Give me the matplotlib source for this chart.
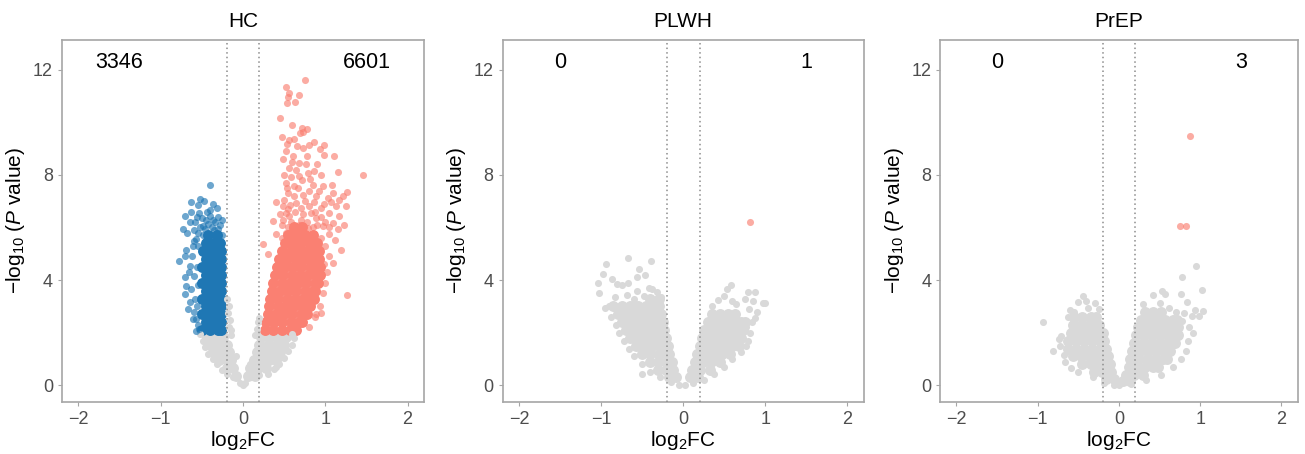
import matplotlib
matplotlib.use("Agg")
import matplotlib.pyplot as plt

plt.rcParams['font.family'] = ['Liberation Sans', 'DejaVu Sans']
plt.rcParams['mathtext.fontset'] = 'custom'
plt.rcParams['mathtext.rm'] = 'Liberation Sans'
plt.rcParams['mathtext.it'] = 'Liberation Sans:italic'

# ---- data ----
titles = ['HC', 'PLWH', 'PrEP']
n_down = [3346, 0, 0]
n_up = [6601, 1, 3]
fc_cut = 0.2

# dense parts of each cloud: (y, [x, x, ...]) rows
hc_grey_rows = [
    (1.85, [-0.44, -0.34, -0.24, 0.22, 0.32, 0.42, 0.52]),
    (1.55, [-0.40, -0.30, -0.20, 0.20, 0.30, 0.40, 0.50]),
    (1.25, [-0.36, -0.27, -0.17, 0.17, 0.26, 0.36, 0.45]),
    (0.95, [-0.29, -0.20, -0.14, 0.13, 0.22, 0.32, 0.40]),
    (0.65, [-0.19, -0.12, 0.09, 0.18, 0.28]),
    (0.35, [-0.08, 0.06, 0.15]),
]
hc_down_rows = [
    (2.1, [-0.50, -0.40, -0.30, -0.27]),
    (2.4, [-0.45, -0.35, -0.27]),
    (2.7, [-0.50, -0.40, -0.30, -0.27]),
    (3.0, [-0.45, -0.35, -0.27]),
    (3.3, [-0.50, -0.40, -0.30, -0.27]),
    (3.6, [-0.45, -0.35, -0.27]),
    (3.9, [-0.50, -0.40, -0.30, -0.27]),
    (4.2, [-0.45, -0.35, -0.27]),
    (4.5, [-0.50, -0.40, -0.30, -0.27]),
    (4.8, [-0.45, -0.35, -0.27]),
    (5.1, [-0.48, -0.40, -0.30, -0.27]),
    (5.4, [-0.45, -0.35, -0.28]),
    (5.7, [-0.42, -0.32]),
]
hc_up_rows = [
    (2.1, [0.27, 0.37, 0.47, 0.57, 0.64]),
    (2.4, [0.28, 0.38, 0.48, 0.58, 0.68, 0.72]),
    (2.7, [0.30, 0.40, 0.50, 0.60, 0.70, 0.78]),
    (3.0, [0.32, 0.42, 0.52, 0.62, 0.72, 0.82]),
    (3.3, [0.33, 0.43, 0.53, 0.63, 0.73, 0.83, 0.86]),
    (3.6, [0.35, 0.45, 0.55, 0.65, 0.75, 0.85, 0.88]),
    (3.9, [0.37, 0.47, 0.57, 0.67, 0.77, 0.87, 0.91]),
    (4.2, [0.39, 0.49, 0.59, 0.69, 0.79, 0.89, 0.93]),
    (4.5, [0.41, 0.51, 0.61, 0.71, 0.81, 0.91, 0.94]),
    (4.8, [0.44, 0.54, 0.64, 0.74, 0.84, 0.92]),
    (5.1, [0.48, 0.58, 0.68, 0.78, 0.88, 0.92]),
    (5.4, [0.51, 0.61, 0.71, 0.81, 0.90]),
    (5.7, [0.55, 0.65, 0.75, 0.85]),
    (6.0, [0.62, 0.72]),
]
plwh_grey_rows = [
    (3.3, [-0.40, -0.30]),
    (3.0, [-0.85, -0.75, -0.65, -0.55, -0.45, -0.35, -0.29]),
    (2.7, [-0.80, -0.70, -0.60, -0.50, -0.40, -0.30, -0.27, 0.35, 0.45, 0.55, 0.63]),
    (2.4, [-0.75, -0.65, -0.55, -0.45, -0.35, -0.25, 0.30, 0.40, 0.50, 0.60, 0.70, 0.75]),
    (2.1, [-0.70, -0.60, -0.50, -0.40, -0.30, -0.23, 0.26, 0.36, 0.46, 0.56, 0.66, 0.73]),
    (1.8, [-0.65, -0.55, -0.45, -0.35, -0.25, -0.21, 0.23, 0.33, 0.43, 0.53, 0.63, 0.71]),
    (1.5, [-0.58, -0.48, -0.38, -0.28, -0.19, 0.20, 0.30, 0.40, 0.50, 0.60, 0.68]),
    (1.2, [-0.50, -0.40, -0.30, -0.20, -0.17, 0.17, 0.27, 0.37, 0.47, 0.57]),
    (0.9, [-0.41, -0.31, -0.21, -0.14, 0.14, 0.24, 0.34, 0.45]),
    (0.6, [-0.31, -0.21, -0.12, 0.11, 0.21, 0.33]),
    (0.3, [-0.17, -0.09, 0.08, 0.18]),
]
prep_grey_rows = [
    (2.8, [0.32, 0.42, 0.52]),
    (2.6, [-0.55, -0.45, -0.35, -0.28]),
    (2.5, [0.27, 0.37, 0.47, 0.57, 0.67, 0.72]),
    (2.3, [-0.57, -0.47, -0.37, -0.27, -0.24]),
    (2.2, [0.24, 0.34, 0.44, 0.54, 0.64, 0.73]),
    (2.0, [-0.59, -0.49, -0.39, -0.29, -0.20]),
    (1.9, [0.21, 0.31, 0.41, 0.51, 0.61, 0.71, 0.73]),
    (1.7, [-0.63, -0.53, -0.43, -0.33, -0.23, -0.18]),
    (1.6, [0.19, 0.29, 0.39, 0.49, 0.59, 0.69]),
    (1.4, [-0.63, -0.53, -0.43, -0.33, -0.23, -0.16]),
    (1.3, [0.16, 0.26, 0.36, 0.46, 0.56, 0.63]),
    (1.1, [-0.57, -0.47, -0.37, -0.27, -0.17, -0.14]),
    (1.0, [0.14, 0.24, 0.34, 0.44, 0.54, 0.59]),
    (0.8, [-0.45, -0.35, -0.25, -0.15, -0.11]),
    (0.7, [0.12, 0.22, 0.32, 0.42, 0.48]),
    (0.5, [-0.31, -0.21, -0.10]),
    (0.4, [0.09, 0.19, 0.30]),
    (0.25, [-0.16, -0.06]),
    (0.15, [0.05, 0.14]),
]

# scattered single genes (x = log2FC, y = -log10 P)
hc_grey_pts = [(-0.52, 1.95), (-0.49, 1.7), (-0.46, 1.45), (-0.42, 1.2), (-0.37, 1.0),
               (-0.32, 0.8), (-0.26, 0.6), (-0.2, 0.45), (-0.12, 0.3), (-0.04, 0.08),
               (0.0, 0.0), (0.03, 0.1), (0.1, 0.3), (0.2, 0.4), (0.3, 0.45), (0.38, 0.62),
               (0.44, 0.8), (0.5, 1.05), (0.55, 1.3), (0.6, 1.55), (0.62, 1.8), (0.6, 1.95),
               (0.4, 0.7), (-0.17, 2.2), (-0.16, 2.5), (-0.18, 2.75), (-0.17, 3.0),
               (-0.19, 3.3), (-0.15, 2.1), (0.17, 2.15), (0.18, 2.4), (0.19, 2.55),
               (-0.14, 1.9), (0.15, 1.9), (-0.09, 1.1), (0.08, 0.8)]
hc_down_pts = [(-0.40, 7.60), (-0.63, 6.98), (-0.52, 7.10), (-0.55, 6.84), (-0.32, 6.74),
               (-0.40, 6.67), (-0.63, 6.60), (-0.70, 6.43), (-0.53, 6.55), (-0.73, 5.95),
               (-0.68, 5.80), (-0.78, 4.73), (-0.69, 5.14), (-0.71, 4.91), (-0.64, 4.54),
               (-0.71, 4.10), (-0.69, 3.76), (-0.71, 3.47), (-0.65, 3.15), (-0.67, 2.90),
               (-0.61, 2.52), (-0.57, 2.05), (-0.45, 6.30), (-0.37, 6.30), (-0.49, 6.05),
               (-0.35, 5.92), (-0.57, 5.55), (-0.61, 5.29), (-0.59, 4.16), (-0.63, 3.65),
               (-0.57, 2.52), (-0.53, 2.14), (-0.60, 5.9), (-0.58, 6.2), (-0.44, 6.6),
               (-0.28, 6.1), (-0.26, 5.7), (-0.30, 6.4), (-0.62, 4.9), (-0.58, 3.3),
               (-0.60, 2.8), (-0.66, 4.3), (-0.55, 5.8), (-0.50, 6.35), (-0.36, 6.9),
               (-0.47, 7.0), (-0.48, 5.7), (-0.38, 6.0), (-0.30, 5.95), (-0.42, 6.15),
               (-0.52, 6.0), (-0.34, 6.2), (-0.46, 5.95), (-0.25, 6.3), (-0.40, 6.45),
               (-0.56, 6.4), (-0.64, 6.2), (-0.60, 5.5), (-0.55, 5.3), (-0.56, 4.5),
               (-0.55, 3.8), (-0.56, 3.0), (-0.55, 2.3)]
hc_up_pts = [(0.758, 11.6), (0.524, 11.34), (0.556, 11.12), (0.686, 11.04), (0.544, 10.94),
             (0.536, 10.74), (0.637, 10.76), (0.455, 10.17), (0.592, 9.89), (0.714, 9.78),
             (0.779, 9.76), (0.475, 9.45), (0.698, 9.58), (0.726, 9.64), (0.564, 9.33),
             (0.625, 9.38), (0.868, 9.23), (0.989, 9.13), (0.937, 8.98), (0.532, 9.18),
             (1.11, 8.72), (0.98, 8.76), (0.726, 9.01), (0.807, 9.14), (0.49, 8.62),
             (0.604, 8.70), (0.686, 8.45), (0.779, 8.70), (0.556, 8.26), (0.868, 8.13),
             (1.15, 8.09), (1.454, 7.98), (0.504, 8.0), (0.686, 7.94), (0.787, 8.07),
             (0.524, 7.69), (0.625, 7.59), (0.847, 7.63), (0.969, 7.56), (1.078, 7.61),
             (1.27, 7.34), (1.21, 7.18), (1.17, 7.03), (0.403, 6.96), (0.544, 7.31),
             (0.726, 7.25), (0.888, 7.18), (1.03, 7.11), (1.25, 6.81), (1.13, 6.81),
             (1.07, 6.96), (0.483, 6.81), (0.646, 6.93), (0.807, 6.81), (0.949, 6.74),
             (0.362, 6.26), (1.23, 6.08), (1.17, 6.43), (1.05, 6.55), (1.09, 6.18),
             (0.403, 5.74), (0.24, 5.38), (0.30, 4.98), (0.483, 6.30), (0.564, 6.43),
             (0.706, 6.30), (0.888, 6.37), (0.604, 6.05), (0.787, 5.99), (0.969, 6.05),
             (0.524, 5.80), (0.686, 5.67), (0.868, 5.74), (1.05, 5.74), (1.12, 5.52),
             (1.19, 5.14), (1.09, 4.66), (1.26, 3.43), (1.16, 5.95), (1.05, 4.9),
             (1.02, 4.3), (1.0, 3.9), (0.97, 3.5), (0.93, 3.0), (0.88, 2.6), (0.8, 2.2),
             (0.95, 2.75), (0.887, 2.71), (1.0, 5.3), (0.98, 4.6),
             (0.47, 6.1), (0.52, 6.55), (0.58, 6.2), (0.63, 6.6), (0.68, 6.1), (0.73, 6.5),
             (0.78, 6.2), (0.83, 6.55), (0.90, 6.1), (0.95, 6.4), (1.00, 6.2),
             (0.50, 7.05), (0.57, 6.85), (0.62, 7.2), (0.67, 7.5), (0.75, 7.0), (0.80, 7.4),
             (0.86, 6.95), (0.92, 7.4), (0.98, 6.9), (1.10, 7.3), (0.53, 7.5), (0.58, 7.9),
             (0.65, 8.2), (0.72, 7.8), (0.76, 8.4), (0.82, 7.85), (0.90, 8.4), (0.95, 8.0),
             (0.60, 8.5), (0.52, 8.9), (0.66, 9.1), (0.47, 5.6), (0.60, 5.9), (0.76, 5.7),
             (0.95, 5.6), (1.04, 6.0), (0.55, 6.0), (0.70, 5.9), (0.85, 6.0), (0.45, 6.5),
             (0.55, 6.7), (0.70, 6.75), (0.88, 6.6)]

plwh_grey_pts = [(-0.67, 4.84), (-0.94, 4.63), (-0.39, 4.73), (-0.54, 4.44), (-0.46, 4.19),
                 (-0.56, 4.12), (-0.98, 4.22), (-0.87, 4.04), (-1.04, 3.90), (-1.02, 3.51),
                 (-0.81, 3.85), (-0.67, 3.88), (-0.75, 3.82), (-0.56, 3.58), (-0.42, 3.71),
                 (-0.38, 3.66), (-0.32, 3.53), (-0.91, 3.03), (-0.83, 3.34), (-0.69, 3.43),
                 (-0.50, 0.43), (-0.60, 3.3), (-0.48, 3.4), (-0.27, 3.35), (-0.95, 2.95),
                 (-0.88, 2.6), (-0.82, 2.3), (-0.78, 2.0), (-0.72, 1.7), (-0.66, 1.4),
                 (-0.6, 1.1), (-0.5, 0.8), (-0.4, 0.5), (-0.28, 0.3), (-0.15, 0.12),
                 (-0.05, 0.03), (0.58, 3.81), (0.54, 3.68), (0.79, 3.53), (0.875, 3.53),
                 (0.97, 3.13), (1.0, 3.13), (0.85, 3.22), (0.75, 3.28), (0.42, 3.24),
                 (0.50, 3.40), (0.87, 2.55), (0.77, 2.2), (0.79, 1.70), (0.65, 3.1),
                 (0.6, 3.2), (0.35, 3.0), (0.8, 2.9), (0.9, 2.8), (0.84, 2.4), (0.82, 2.0),
                 (0.77, 1.5), (0.7, 1.25), (0.6, 1.0), (0.5, 0.7), (0.38, 0.45),
                 (0.25, 0.22), (0.12, 0.08), (0.02, 0.0)]
plwh_up_pts = [(0.82, 6.19)]

prep_grey_pts = [(0.95, 4.54), (0.78, 4.13), (1.02, 3.62), (0.76, 3.46), (0.53, 3.6),
                 (0.42, 3.43), (0.57, 3.46), (0.51, 3.13), (0.84, 3.18), (1.04, 2.84),
                 (0.94, 2.88), (0.98, 2.62), (0.90, 2.62), (0.86, 2.21), (0.91, 1.99),
                 (0.85, 1.70), (0.78, 2.46), (0.30, 3.1), (0.62, 2.95), (0.7, 2.8),
                 (0.8, 2.75), (0.83, 1.3), (0.76, 1.0), (0.66, 0.7), (0.52, 0.4),
                 (0.33, 0.2), (0.15, 0.05), (0.0, 0.0), (-0.94, 2.42), (-0.81, 1.32),
                 (-0.44, 3.38), (-0.30, 3.13), (-0.51, 3.15), (-0.60, 2.88), (-0.63, 2.59),
                 (-0.71, 1.89), (-0.72, 1.51), (-0.59, 0.66), (-0.66, 0.88), (-0.38, 2.95),
                 (-0.25, 2.9), (-0.55, 2.8), (-0.74, 1.75), (-0.68, 1.15), (-0.5, 0.5),
                 (-0.32, 0.3), (-0.18, 0.1), (-0.06, 0.02), (-0.4, 3.2)]
prep_up_pts = [(0.87, 9.46), (0.75, 6.06), (0.83, 6.06)]

panels = [
    (hc_grey_rows, hc_grey_pts, hc_down_rows, hc_down_pts, hc_up_rows, hc_up_pts),
    (plwh_grey_rows, plwh_grey_pts, [], [], [], plwh_up_pts),
    (prep_grey_rows, prep_grey_pts, [], [], [], prep_up_pts),
]

grey = '#d9d9d9'
blue = '#1f77b4'
red = '#fa8072'
s_core = 62
s_pt = 26


def flat(rows):
    xs, ys = [], []
    for y, row in rows:
        xs += row
        ys += [y] * len(row)
    return xs, ys


def split(pts):
    return [p[0] for p in pts], [p[1] for p in pts]


fig = plt.figure(figsize=(13.05, 4.54), dpi=100)
lefts = [0.0475, 0.3852, 0.7205]
widths = [0.2774, 0.2766, 0.2739]

for i, (g_rows, g_pts, d_rows, d_pts, u_rows, u_pts) in enumerate(panels):
    ax = fig.add_axes([lefts[i], 0.115, widths[i], 0.797])
    for rows, pts, col in [(g_rows, g_pts, grey), (d_rows, d_pts, blue), (u_rows, u_pts, red)]:
        if rows:
            x, y = flat(rows)
            ax.scatter(x, y, s=s_core, color=col, linewidths=0, zorder=2)
        if pts:
            x, y = split(pts)
            a = 1.0 if col == grey else 0.65
            ax.scatter(x, y, s=s_pt, color=col, alpha=a, linewidths=0, zorder=3)

    ax.axvline(-fc_cut, color='#8c8c8c', ls=(0, (1, 2)), lw=1.1, zorder=4)
    ax.axvline(fc_cut, color='#8c8c8c', ls=(0, (1, 2)), lw=1.1, zorder=4)

    ax.text(-1.5, 12.25, str(n_down[i]), ha='center', va='center', fontsize=15.5)
    ax.text(1.5, 12.25, str(n_up[i]), ha='center', va='center', fontsize=15.5)

    ax.set_xlim(-2.2, 2.2)
    ax.set_ylim(-0.625, 13.125)
    ax.set_xticks([-2, -1, 0, 1, 2])
    ax.set_xticklabels(['\u22122', '\u22121', '0', '1', '2'])
    ax.set_yticks([0, 4, 8, 12])
    ax.tick_params(colors='#a6a6a6', labelcolor='#4d4d4d', labelsize=13, length=3, width=0.8)
    for sp in ax.spines.values():
        sp.set_color('#a6a6a6')
        sp.set_linewidth(1.2)
    ax.set_title(titles[i], fontsize=15, pad=9)
    ax.set_xlabel(r'$\mathrm{log_2FC}$', fontsize=15, labelpad=1)
    ax.set_ylabel(r'$\mathrm{-log_{10}\ (}\mathit{P}\mathrm{\ value)}$', fontsize=15, labelpad=4)

fig.savefig('out.png', dpi=100)
